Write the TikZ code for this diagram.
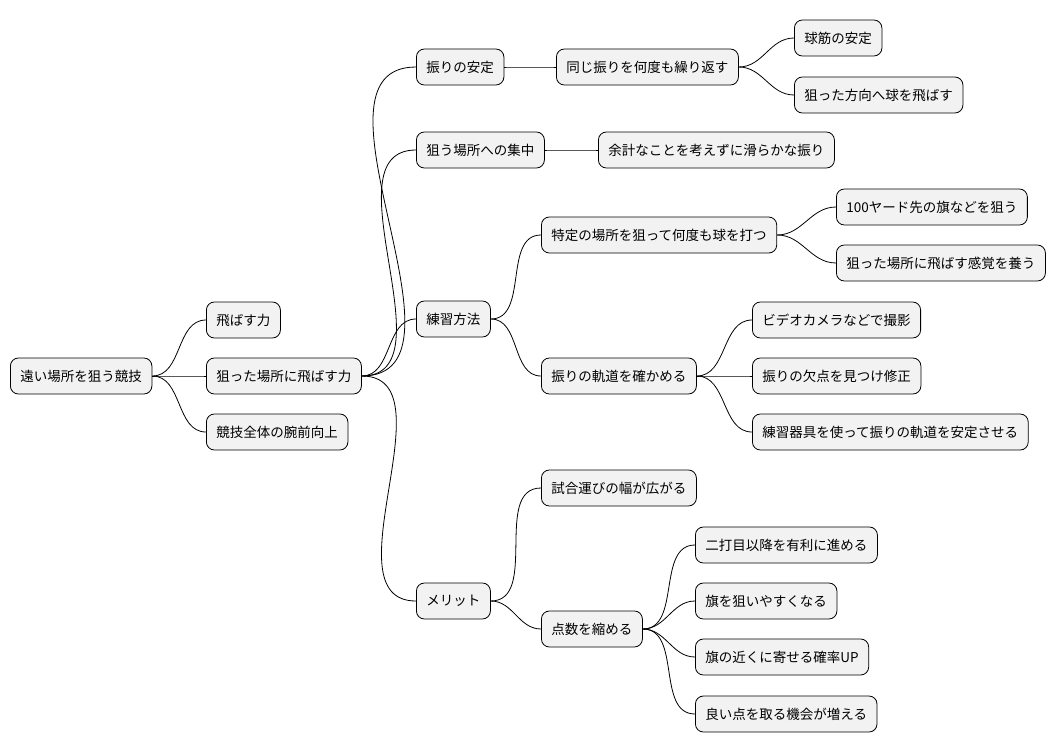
\documentclass[tikz,border=0pt]{standalone}
\usepackage{fontspec}
\setmainfont{Noto Sans CJK JP}
\begin{document}
\begin{tikzpicture}[x=1pt,y=-1pt,
  box/.style={draw=black,line width=0.8pt,fill=black!5,rounded corners=8pt,anchor=west,minimum height=36pt,inner xsep=10pt,font=\fontsize{13.5}{16}\selectfont},
  link/.style={line width=0.8pt}]
\useasboundingbox (0,0) rectangle (1062,752);
\node[box] (r) at (10,376) {遠い場所を狙う競技};
\node[box] (a1) at (206,320) {飛ばす力};
\node[box] (a2) at (206,376) {狙った場所に飛ばす力};
\node[box] (a3) at (206,432) {競技全体の腕前向上};
\node[box] (b1) at (416,67) {振りの安定};
\node[box] (b2) at (416,150) {狙う場所への集中};
\node[box] (b3) at (416,319) {練習方法};
\node[box] (b4) at (416,601) {メリット};
\node[box] (c1) at (556,67) {同じ振りを何度も繰り返す};
\node[box] (d1) at (794,38) {球筋の安定};
\node[box] (d2) at (794,95) {狙った方向へ球を飛ばす};
\node[box] (c2) at (598,150) {余計なことを考えずに滑らかな振り};
\node[box] (c3) at (541,235) {特定の場所を狙って何度も球を打つ};
\node[box] (d3) at (836,207) {100ヤード先の旗などを狙う};
\node[box] (d4) at (836,263) {狙った場所に飛ばす感覚を養う};
\node[box] (c4) at (541,376) {振りの軌道を確かめる};
\node[box] (d5) at (752,320) {ビデオカメラなどで撮影};
\node[box] (d6) at (752,376) {振りの欠点を見つけ修正};
\node[box] (d7) at (752,432) {練習器具を使って振りの軌道を安定させる};
\node[box] (c5) at (541,488) {試合運びの幅が広がる};
\node[box] (c6) at (541,629) {点数を縮める};
\node[box] (d8) at (695,545) {二打目以降を有利に進める};
\node[box] (d9) at (695,601) {旗を狙いやすくなる};
\node[box] (d10) at (695,657) {旗の近くに寄せる確率UP};
\node[box] (d11) at (695,714) {良い点を取る機会が増える};
\foreach \p/\c in {r/a1,r/a2,r/a3,a2/b1,a2/b2,a2/b3,a2/b4,b1/c1,c1/d1,c1/d2,b2/c2,b3/c3,b3/c4,c3/d3,c3/d4,c4/d5,c4/d6,c4/d7,b4/c5,b4/c6,c6/d8,c6/d9,c6/d10,c6/d11}
  \draw[link] (\p.east) to[out=0,in=180] (\c.west);
\end{tikzpicture}
\end{document}
